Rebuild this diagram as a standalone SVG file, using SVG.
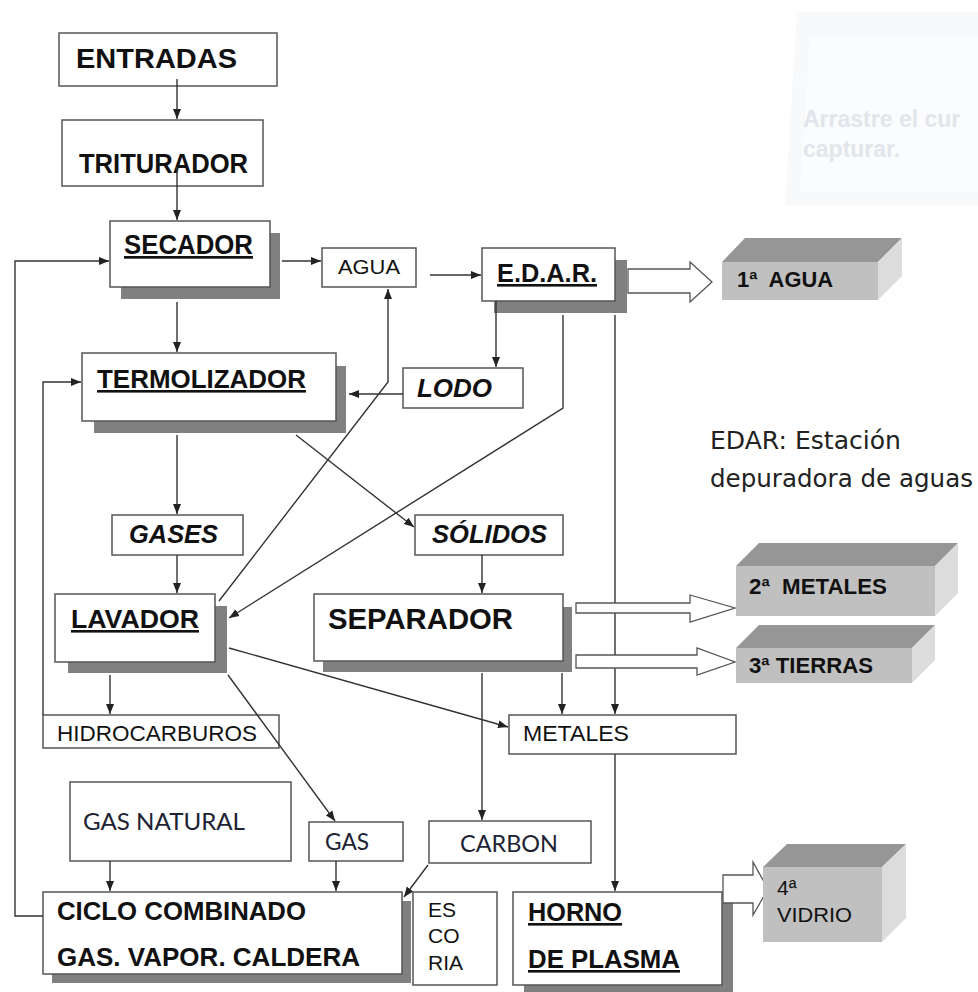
<svg xmlns="http://www.w3.org/2000/svg" width="978" height="992" viewBox="0 0 978 992">
<style>
.box{fill:#fff;stroke:#555;stroke-width:1.5}
.shd{fill:#808080}
.c{fill:none;stroke:#333;stroke-width:1.4;marker-end:url(#ah)}
.ln{fill:none;stroke:#333;stroke-width:1.4}
.hol{fill:#fff;stroke:#555;stroke-width:1.3}
.b{font-family:"Liberation Sans",Arial,sans-serif;font-weight:bold;fill:#111}
.r{font-family:"Liberation Sans",Arial,sans-serif;fill:#111}
.u{text-decoration:underline}
.i{font-style:italic}
.cal{font-family:Lato,"Liberation Sans",sans-serif;fill:#1d2333}
.note{font-family:"DejaVu Sans","Liberation Sans",sans-serif;fill:#222}
.front{fill:#c0c0c0}
.top{fill:#969696}
.side{fill:#dcdcdc}
.faint{font-family:"Liberation Sans",Arial,sans-serif;font-weight:bold;fill:#e2e5eb}
</style>
<defs>
<marker id="ah" viewBox="0 0 10 10" refX="10" refY="5" markerWidth="10" markerHeight="10" markerUnits="userSpaceOnUse" orient="auto">
<path d="M0,1 L10,5 L0,9 z" fill="#222"/>
</marker>
</defs>
<rect x="0" y="0" width="978" height="992" fill="#fff"/>

<g id="overlay">
<polygon points="797,12 978,12 978,205 785,205" fill="#f8f9fb"/>
<polygon points="810,37 978,37 978,192 800,192" fill="#fbfcfd"/>
<text class="faint" x="803" y="127" font-size="23">Arrastre el cur</text>
<text class="faint" x="803" y="157" font-size="23">capturar.</text>
</g>

<g id="entradas">
<rect class="box" x="59" y="33" width="218" height="53"/>
<text class="b" x="76" y="68" font-size="28" textLength="161" lengthAdjust="spacingAndGlyphs">ENTRADAS</text>
</g>
<g id="triturador">
<rect class="box" x="62" y="120" width="201" height="66"/>
<text class="b" x="79" y="173" font-size="27" textLength="169" lengthAdjust="spacingAndGlyphs">TRITURADOR</text>
</g>
<g id="secador">
<rect class="shd" x="121" y="233" width="159" height="66"/>
<rect class="box" x="110" y="221" width="160" height="66"/>
<text class="b u" x="124" y="254" font-size="27" textLength="129" lengthAdjust="spacingAndGlyphs">SECADOR</text>
</g>
<g id="agua">
<rect class="box" x="322" y="248" width="94" height="39"/>
<text class="r" x="338" y="274" font-size="21" textLength="62" lengthAdjust="spacingAndGlyphs">AGUA</text>
</g>
<g id="edar">
<rect class="shd" x="494" y="260" width="133" height="53"/>
<rect class="box" x="482" y="248" width="133" height="53"/>
<text class="b u" x="497" y="282" font-size="26" textLength="100" lengthAdjust="spacingAndGlyphs">E.D.A.R.</text>
</g>
<g id="termolizador">
<rect class="shd" x="94" y="366" width="252" height="67"/>
<rect class="box" x="82" y="353" width="254" height="68"/>
<text class="b u" x="97" y="388" font-size="26" textLength="209" lengthAdjust="spacingAndGlyphs">TERMOLIZADOR</text>
</g>
<g id="lodo">
<rect class="box" x="403" y="368" width="120" height="40"/>
<text class="b i" x="417" y="397" font-size="26" textLength="75" lengthAdjust="spacingAndGlyphs">LODO</text>
</g>
<g id="gases">
<rect class="box" x="112" y="515" width="131" height="40"/>
<text class="b i" x="129" y="543" font-size="26" textLength="89" lengthAdjust="spacingAndGlyphs">GASES</text>
</g>
<g id="solidos">
<rect class="box" x="415" y="515" width="148" height="40"/>
<text class="b i" x="432" y="543" font-size="26" textLength="115" lengthAdjust="spacingAndGlyphs">SÓLIDOS</text>
</g>
<g id="lavador">
<rect class="shd" x="68" y="606" width="159" height="67"/>
<rect class="box" x="55" y="594" width="160" height="68"/>
<text class="b u" x="71" y="628" font-size="26" textLength="128" lengthAdjust="spacingAndGlyphs">LAVADOR</text>
</g>
<g id="separador">
<rect class="shd" x="323" y="607" width="249" height="65"/>
<rect class="box" x="314" y="594" width="249" height="67"/>
<text class="b" x="328" y="629" font-size="29" textLength="185" lengthAdjust="spacingAndGlyphs">SEPARADOR</text>
</g>
<g id="hidrocarburos">
<rect class="box" x="43" y="715" width="236" height="33"/>
<text class="r" x="57" y="741" font-size="22" textLength="200" lengthAdjust="spacingAndGlyphs">HIDROCARBUROS</text>
</g>
<g id="metales">
<rect class="box" x="509" y="715" width="227" height="39"/>
<text class="r" x="523" y="741" font-size="22" textLength="106" lengthAdjust="spacingAndGlyphs">METALES</text>
</g>
<g id="gas-natural">
<rect class="box" x="70" y="782" width="221" height="79"/>
<text class="cal" x="83" y="830" font-size="23" textLength="162" lengthAdjust="spacingAndGlyphs">GAS NATURAL</text>
</g>
<g id="gas">
<rect class="box" x="309" y="822" width="94" height="39"/>
<text class="cal" x="325" y="850" font-size="23" textLength="44" lengthAdjust="spacingAndGlyphs">GAS</text>
</g>
<g id="carbon">
<rect class="box" x="429" y="821" width="162" height="42"/>
<text class="cal" x="460" y="852" font-size="23" textLength="98" lengthAdjust="spacingAndGlyphs">CARBON</text>
</g>
<g id="ciclo">
<rect class="shd" x="52" y="901" width="359" height="82"/>
<rect class="box" x="43" y="892" width="359" height="82"/>
<text class="b" x="57" y="920" font-size="26" textLength="249" lengthAdjust="spacingAndGlyphs">CICLO COMBINADO</text>
<text class="b" x="57" y="966" font-size="26" textLength="303" lengthAdjust="spacingAndGlyphs">GAS. VAPOR. CALDERA</text>
</g>
<g id="escoria">
<rect class="box" x="413" y="892" width="84" height="93"/>
<text class="r" x="428" y="917" font-size="21">ES</text>
<text class="r" x="428" y="943" font-size="21">CO</text>
<text class="r" x="428" y="970" font-size="21">RIA</text>
</g>
<g id="horno">
<rect class="shd" x="524" y="903" width="209" height="93"/>
<rect class="box" x="513" y="892" width="209" height="93"/>
<text class="b u" x="528" y="921" font-size="26" textLength="94" lengthAdjust="spacingAndGlyphs">HORNO</text>
<text class="b u" x="528" y="968" font-size="26" textLength="152" lengthAdjust="spacingAndGlyphs">DE PLASMA</text>
</g>

<g id="connectors">
<path class="c" d="M177,79 V119"/>
<path class="c" d="M177,167 V220"/>
<path class="c" d="M282,261 H321"/>
<path class="c" d="M430,275 H481"/>
<path class="c" d="M177,302 V352"/>
<path class="c" d="M496,301 V367"/>
<path class="c" d="M403,394 H349"/>
<path class="c" d="M219,601 L388,382 V289"/>
<path class="c" d="M563,315 V408 L229,618"/>
<path class="c" d="M615,315 V714"/>
<path class="c" d="M177,435 V514"/>
<path class="c" d="M296,435 L414,527"/>
<path class="c" d="M177,555 V593"/>
<path class="c" d="M482,555 V593"/>
<path class="c" d="M110,675 V714"/>
<path class="c" d="M229,648 L508,727"/>
<path class="c" d="M228,675 L335,821"/>
<path class="c" d="M562,673 V714"/>
<path class="c" d="M482,673 V820"/>
<path class="c" d="M615,754 V891"/>
<path class="c" d="M43,715 V382 H81"/>
<path class="c" d="M43,916 H15 V261 H109"/>
<path class="c" d="M110,861 V891"/>
<path class="c" d="M336,861 V891"/>
<path class="c" d="M428,865 L404,897"/>
<polygon class="hol" points="628,269 690,269 690,262 712,282 690,302 690,293 628,293"/>
<polygon class="hol" points="576,603 690,603 690,595 735,608 690,622 690,613 576,613"/>
<polygon class="hol" points="576,655 697,655 697,648 735,662 697,675 697,668 576,668"/>
<polygon class="hol" points="723,875 753,875 753,862 768,889 753,915 753,903 723,903"/>
</g>

<g id="agua-1">
<polygon class="top" points="722,262 878,262 902,238 745,238"/>
<polygon class="side" points="878,262 902,238 902,276 878,300"/>
<rect class="front" x="722" y="262" width="156" height="38"/>
<text class="b" x="737" y="287" font-size="22" textLength="96" lengthAdjust="spacingAndGlyphs">1ª&#160; AGUA</text>
</g>
<g id="metales-2">
<polygon class="top" points="736,566 935,566 958,543 759,543"/>
<polygon class="side" points="935,566 958,543 958,593 935,616"/>
<rect class="front" x="736" y="566" width="199" height="50"/>
<text class="b" x="749" y="594" font-size="22" textLength="138" lengthAdjust="spacingAndGlyphs">2ª&#160; METALES</text>
</g>
<g id="tierras-3">
<polygon class="top" points="736,648 912,648 935,625 759,625"/>
<polygon class="side" points="912,648 935,625 935,660 912,683"/>
<rect class="front" x="736" y="648" width="176" height="35"/>
<text class="b" x="749" y="673" font-size="22" textLength="124" lengthAdjust="spacingAndGlyphs">3ª TIERRAS</text>
</g>
<g id="vidrio-4">
<polygon class="top" points="763,867 882,867 906,844 787,844"/>
<polygon class="side" points="882,867 906,844 906,918 882,942"/>
<rect class="front" x="763" y="867" width="119" height="75"/>
<text class="r" x="777" y="895" font-size="21">4ª</text>
<text class="r" x="777" y="922" font-size="21" textLength="75" lengthAdjust="spacingAndGlyphs">VIDRIO</text>
</g>

<g id="edar-note">
<text class="note" x="710" y="449" font-size="25" textLength="191" lengthAdjust="spacingAndGlyphs">EDAR: Estación</text>
<text class="note" x="710" y="487" font-size="25" textLength="263" lengthAdjust="spacingAndGlyphs">depuradora de aguas</text>
</g>
</svg>
